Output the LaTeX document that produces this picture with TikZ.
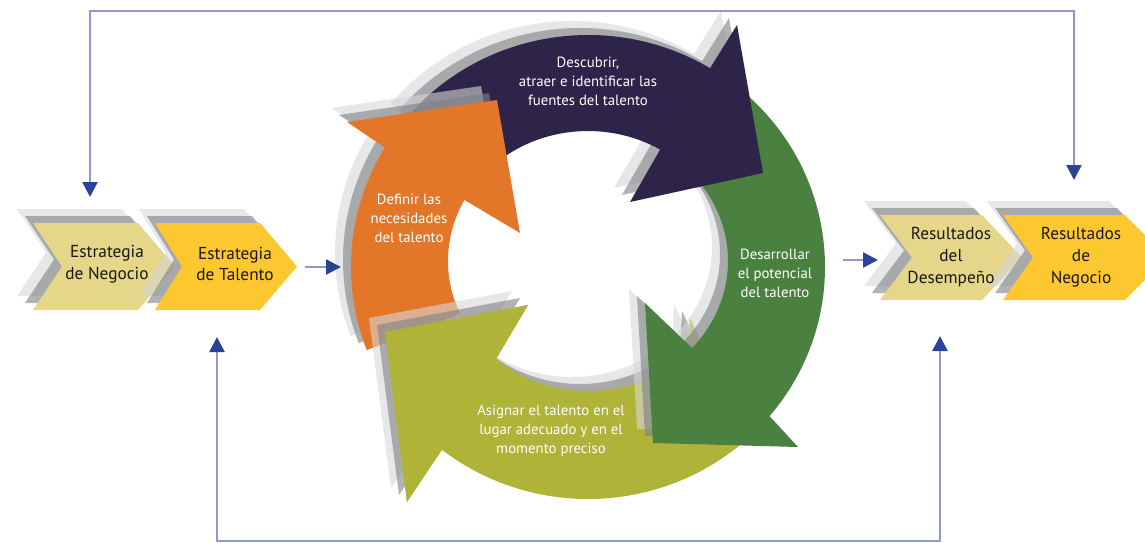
\documentclass[tikz,border=0pt]{standalone}
\usepackage{fontspec}
\setmainfont{PT Sans}
\usetikzlibrary{arrows.meta}
\definecolor{cOrange}{HTML}{E37628}
\definecolor{cPurple}{HTML}{2E2449}
\definecolor{cGreen}{HTML}{4A8040}
\definecolor{cOlive}{HTML}{AFB337}
\definecolor{cBeige}{HTML}{E5D68A}
\definecolor{cYellow}{HTML}{FDC82F}
\definecolor{shGray}{HTML}{7E8083}
\definecolor{shLight}{HTML}{D6D7D9}
\definecolor{lineBlue}{HTML}{8D9ACB}
\definecolor{tipBlue}{HTML}{2B4396}
\definecolor{txtDark}{HTML}{1A1718}
\def\chevp#1#2#3#4#5#6{(#1,#2) -- (#4,#2) -- (#5,{(#2+#3)/2}) -- (#4,#3) -- (#1,#3) -- (#6,{(#2+#3)/2}) -- cycle}
\def\pOlive{([shift={(588,267)}]48:237 and 232) arc[start angle=48,end angle=128,x radius=237,y radius=232] -- (407,502) -- (385,332) -- (528,305) -- ([shift={(588,261)}]131:140 and 130) arc[start angle=131,end angle=44,x radius=140,y radius=130] -- (690,318) -- cycle}
\def\pOliveHead{(407,502) -- (385,332) -- (528,305) -- cycle}
\def\pGreen{([shift={(588,267)}]310:237 and 232) arc[start angle=310,end angle=400,x radius=237,y radius=232] -- (798,447) -- (653,443) -- (645,303) -- ([shift={(588,261)}]402:140 and 130) arc[start angle=402,end angle=310,x radius=140,y radius=130] -- cycle}
\def\pPurple{([shift={(588,267)}]220:237 and 232) arc[start angle=220,end angle=301,x radius=237,y radius=232] -- (737,25) -- (763,173) -- (630,202) -- ([shift={(588,261)}]301:140 and 130) arc[start angle=301,end angle=225,x radius=140,y radius=130] -- cycle}
\def\pOrange{([shift={(588,267)}]159:237 and 232) arc[start angle=159,end angle=211,x radius=237,y radius=232] -- (347,122) -- (497,100) -- (520,233) -- ([shift={(588,261)}]208:140 and 130) arc[start angle=208,end angle=156,x radius=140,y radius=130] -- cycle}
\begin{document}
\begin{tikzpicture}[x=1pt,y=-1pt,
  shl/.style={fill=shLight,fill opacity=0.6,shift={(-16,-14)}},
  shg/.style={fill=shGray,fill opacity=0.6,shift={(-8,-7)}},
  fb/.style={draw=lineBlue,line width=2.4pt},
  bt/.tip={Triangle[width=15pt,length=15pt,color=tipBlue]},
  wtxt/.style={text=white,font=\fontsize{14.8}{19}\selectfont,align=center,inner sep=0pt},
  ctxt/.style={text=txtDark,font=\fontsize{17.3}{21.8}\selectfont,align=center,inner sep=0pt}]
\useasboundingbox (0,0) rectangle (1145,543);
\clip (0,0) rectangle (1145,543);
% chevrons left
\fill[shl] \chevp{33}{223}{310}{138}{175}{62};
\fill[shg] \chevp{33}{223}{310}{138}{175}{62};
\fill[cBeige] \chevp{33}{223}{310}{138}{175}{62};
\fill[shl] \chevp{155}{223}{310}{260}{297}{182};
\fill[shg] \chevp{155}{223}{310}{260}{297}{182};
\fill[cYellow] \chevp{155}{223}{310}{260}{297}{182};
% chevrons right
\fill[shl] \chevp{880}{215}{300}{982}{1022}{912};
\fill[shg] \chevp{880}{215}{300}{982}{1022}{912};
\fill[cBeige] \chevp{880}{215}{300}{982}{1022}{912};
\fill[shl] \chevp{1003}{215}{300}{1125}{1167}{1033};
\fill[shg] \chevp{1003}{215}{300}{1125}{1167}{1033};
\fill[cYellow] \chevp{1003}{215}{300}{1125}{1167}{1033};
% ring
\fill[shl] \pOlive; \fill[shg] \pOlive; \fill[cOlive] \pOlive;
\fill[shl] \pGreen; \fill[shg] \pGreen; \fill[cGreen] \pGreen;
\fill[shl] \pPurple; \fill[shg] \pPurple; \fill[cPurple] \pPurple;
\fill[shl] \pOrange; \fill[shg] \pOrange; \fill[cOrange] \pOrange;
\begin{scope}
\clip \pOrange;
\fill[shl] \pOliveHead; \fill[shg] \pOliveHead;
\end{scope}
\fill[cOlive] \pOliveHead;
% texts
\node[ctxt] (sn) at (107,264) {Estrategia\\de Negocio};
\node[ctxt] (st) at (235,264) {Estrategia\\de Talento};
\node[ctxt] (rd) at (951,257) {Resultados\\del\\Desempeño};
\node[ctxt] (rn) at (1081,257) {Resultados\\de\\Negocio};
\node[wtxt] (tdef) at (409,218) {Definir las\\necesidades\\del talento};
\node[wtxt] (tdes) at (588,81) {Descubrir,\\atraer e identificar las\\fuentes del talento};
\node[wtxt] (tdev) at (775,273) {Desarrollar\\el potencial\\del talento};
\node[wtxt] (tasg) at (551,431) {Asignar el talento en el\\lugar adecuado y en el\\momento preciso};
% connectors
\coordinate (topY) at (0,11);
\coordinate (botY) at (0,541);
\coordinate (fbTL) at (90,197);
\coordinate (fbTR) at (1074,180);
\coordinate (fbBL) at (217,337);
\coordinate (fbBR) at (940,336);
\draw[fb,bt-bt] (fbTL) -- (fbTL|-topY) -- (fbTR|-topY) -- (fbTR);
\draw[fb,bt-bt] (fbBL) -- (fbBL|-botY) -- (fbBR|-botY) -- (fbBR);
\coordinate (h1a) at (305,267);
\coordinate (h1b) at (341,267);
\coordinate (h2a) at (843,260);
\coordinate (h2b) at (878,260);
\draw[fb,-bt] (h1a) -- (h1b);
\draw[fb,-bt] (h2a) -- (h2b);
\end{tikzpicture}
\end{document}
